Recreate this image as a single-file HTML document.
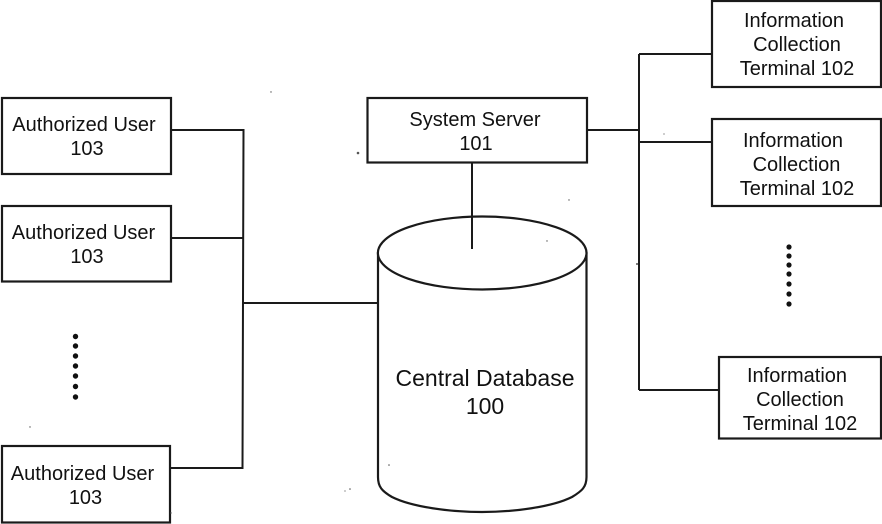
<!DOCTYPE html>
<html>
<head>
<meta charset="utf-8">
<style>
html,body{margin:0;padding:0;background:#fff;}
svg{display:block;}
text{font-family:"Liberation Sans",Arial,sans-serif;font-size:20px;fill:#111;text-anchor:middle;}
.b{fill:#fff;stroke:#1a1a1a;stroke-width:2.2;}
.l{fill:none;stroke:#1a1a1a;stroke-width:2;}
</style>
</head>
<body>
<svg width="882" height="524" viewBox="0 0 882 524" xmlns="http://www.w3.org/2000/svg">
<!-- connectors -->
<path class="l" d="M171 130H243.5L242.5 468H170M171 238H243M243 303H378"/>
<path class="l" d="M587 130H639M639 54V390M639 54H712M639 142H712M639 390H718"/>
<!-- left boxes -->
<rect class="b" x="2" y="98" width="169" height="76"/>
<text x="84" y="131">Authorized User</text><text x="87" y="155">103</text>
<rect class="b" x="2" y="206" width="169" height="75.500"/>
<text x="83.500" y="239">Authorized User</text><text x="87" y="263">103</text>
<rect class="b" x="2" y="446" width="168" height="76.500"/>
<text x="82.500" y="480">Authorized User</text><text x="85.500" y="504">103</text>
<!-- left dots -->
<g fill="#111">
<circle cx="75.500" cy="336.500" r="2.700"/><circle cx="75.500" cy="346" r="2.700"/><circle cx="75.500" cy="356" r="2.700"/><circle cx="75.500" cy="366" r="2.700"/><circle cx="75.500" cy="376" r="2.700"/><circle cx="75.500" cy="386.500" r="2.700"/><circle cx="75.500" cy="397" r="2.700"/>
</g>
<!-- server -->
<rect class="b" x="367.500" y="98" width="219.500" height="64.500"/>
<text x="475" y="126">System Server</text><text x="476" y="150">101</text>
<!-- database -->
<path class="b" d="M378 252V477C378 487 382 491 392 497C412 507 450 512 482 512C514 512 552 507 572 497C582 491 586.500 487 586.500 477V252"/>
<ellipse class="b" cx="482.200" cy="253" rx="104.300" ry="36.500"/>
<path class="l" d="M472 162V249"/>
<text x="485" y="386" style="font-size:23px">Central Database</text>
<text x="485" y="414" style="font-size:23px">100</text>
<!-- right boxes -->
<rect class="b" x="712" y="1" width="169" height="86"/>
<text x="794" y="27">Information</text><text x="797" y="51">Collection</text><text x="797" y="75">Terminal 102</text>
<rect class="b" x="712" y="119" width="169" height="87"/>
<text x="793" y="147">Information</text><text x="796.500" y="171">Collection</text><text x="797" y="195">Terminal 102</text>
<rect class="b" x="719" y="357" width="162" height="81.500"/>
<text x="797" y="382">Information</text><text x="800" y="406">Collection</text><text x="800" y="430">Terminal 102</text>
<!-- right dots -->
<g fill="#111">
<circle cx="789" cy="247" r="2.600"/><circle cx="789" cy="256" r="2.600"/><circle cx="789" cy="265" r="2.600"/><circle cx="789" cy="274" r="2.600"/><circle cx="789" cy="284" r="2.600"/><circle cx="789" cy="294" r="2.600"/><circle cx="789" cy="304" r="2.600"/>
</g>
<!-- scan specks -->
<g fill="#555">
<circle cx="358" cy="153" r="1.300"/><circle cx="271" cy="92" r=".7"/><circle cx="350" cy="489" r=".8"/><circle cx="345" cy="491" r=".6"/><circle cx="389" cy="465" r=".8"/><circle cx="547" cy="241" r=".7"/><circle cx="637" cy="264" r="1"/><circle cx="30" cy="427" r=".7"/><circle cx="569" cy="200" r=".7"/><circle cx="664" cy="134" r=".6"/><circle cx="171" cy="513" r=".7"/>
</g>
</svg>
</body>
</html>
